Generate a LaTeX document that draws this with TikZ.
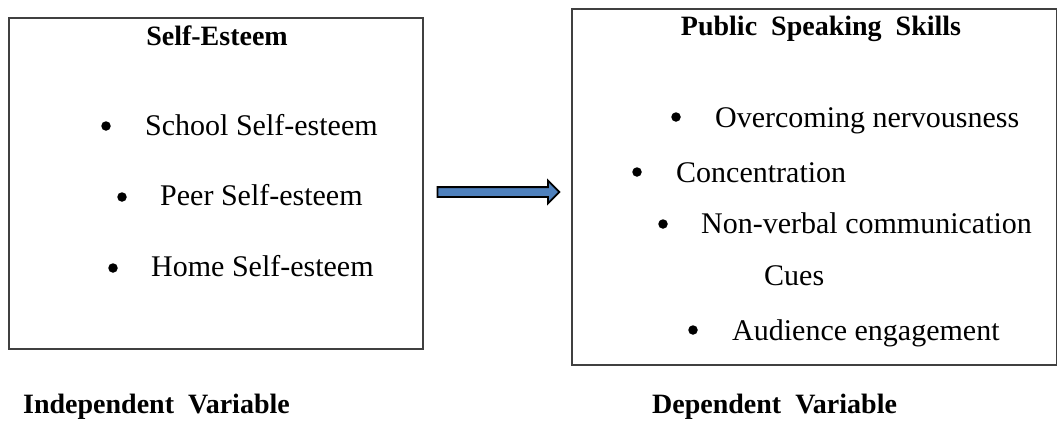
\documentclass[tikz,border=0pt]{standalone}
\usepackage{fontspec}
\setmainfont{Liberation Serif}
\usepackage{xcolor}
\usetikzlibrary{shapes.arrows, positioning, calc}

\definecolor{arrowblue}{HTML}{4F81BD}

\begin{document}
\begin{tikzpicture}[
  x=1pt, y=-1pt,
  frame/.style={rectangle, draw=black!75, line width=1.6pt, anchor=north west,
                inner sep=0pt},
  heading/.style={font=\fontsize{28}{32}\selectfont\bfseries, anchor=base, inner sep=0pt},
  varlabel/.style={font=\fontsize{28}{32}\selectfont\bfseries, anchor=base west, inner sep=0pt},
  item/.style={font=\fontsize{30}{34}\selectfont, anchor=base west, inner sep=0pt},
  dot/.style={circle, fill=black, inner sep=0pt, minimum size=9.5pt},
  link/.style={single arrow, draw=black, fill=arrowblue, line width=1.8pt,
               inner xsep=0pt, inner ysep=4pt, minimum height=122pt,
               single arrow head extend=6.5pt, single arrow head indent=0pt}
]
\useasboundingbox (0,0) rectangle (1057,421);

% ── Boxes ──
\node[frame, minimum width=414pt, minimum height=331pt] (se)  at (8,17)  {};
\node[frame, minimum width=485pt, minimum height=356pt] (pss) at (571,8) {};

% ── Independent side ──
\node[heading] (seh) at (217,45) {Self-Esteem};
\node[dot]  (d1) at (106,126) {};
\node[item] (i1) at (145,135) {School Self-esteem};
\node[dot]  (d2) at (122,197) {};
\node[item] (i2) at (160,205) {Peer Self-esteem};
\node[dot]  (d3) at (113,268) {};
\node[item] (i3) at (151,276) {Home Self-esteem};

% ── Dependent side ──
\node[heading] (pssh) at (821,35) {Public\ \ Speaking\ \ Skills};
\node[dot]  (d4) at (676,117) {};
\node[item] (i4) at (715,127) {Overcoming nervousness};
\node[dot]  (d5) at (637,172) {};
\node[item] (i5) at (676,182) {Concentration};
\node[dot]  (d6) at (663,224) {};
\node[item] (i6) at (701,233) {Non-verbal communication};
\node[item] (i7) at (764,285) {Cues};
\node[dot]  (d7) at (693,330) {};
\node[item] (i8) at (732,340) {Audience engagement};

% ── Block arrow between the boxes ──
\node[link] (arr) at (496,192) {};

% ── Variable labels ──
\node[varlabel] (iv) at (23,413)  {Independent\ \ Variable};
\node[varlabel] (dv) at (652,413) {Dependent\ \ Variable};
\end{tikzpicture}
\end{document}
